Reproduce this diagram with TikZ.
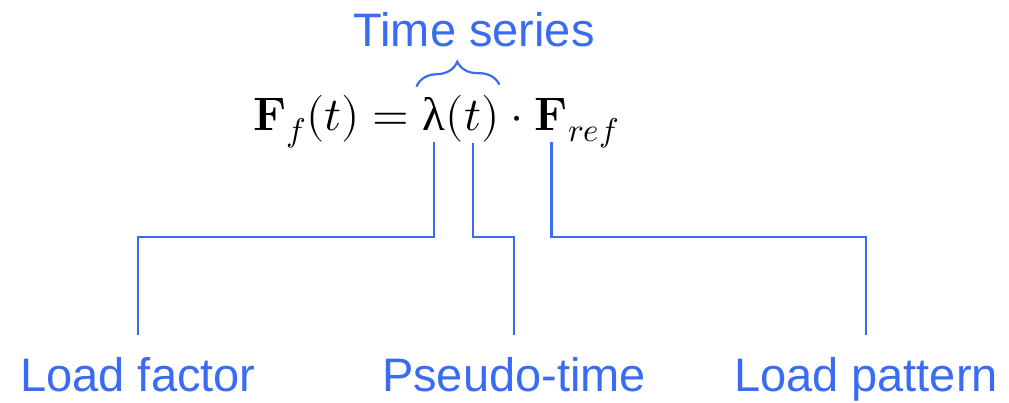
\documentclass[tikz,border=0pt]{standalone}
\usepackage{amsmath}
\usepackage{unicode-math}
\setmathfont{Latin Modern Math}
\setsansfont{Liberation Sans}
\newfontfamily\lamfont{Liberation Serif}
\usetikzlibrary{positioning,decorations.pathreplacing,calc}
\definecolor{leadblue}{HTML}{3A6BF5}

\begin{document}
\begin{tikzpicture}[
  x=1pt, y=-1pt,
  eq/.style={inner sep=0pt, anchor=base west, font=\fontsize{47}{54}\selectfont},
  tag/.style={inner sep=0pt, anchor=base, text=leadblue,
              font=\sffamily\fontsize{47}{54}\selectfont},
  lead/.style={draw=leadblue, line width=2.2pt},
  curly/.style={lead, line width=2.2pt, decorate, decoration={brace, amplitude=24pt}},
]
\useasboundingbox (0,0) rectangle (1009,402);

% ---- the equation, set piece by piece so the leads can hang from it ----
\node[eq] (lhs) at (253,130)      {$\mathbf{F}_f(t) ={}$};
\node[eq] (lam) at (lhs.base east) {\lamfont λ};
\node[eq] (lp)  at (lam.base east) {$($};
\node[eq] (tv)  at (lp.base east)  {$t$};
\node[eq] (rp)  at (tv.base east)  {$)$};
\node[eq] (dt)  at (rp.base east)  {${}\cdot{}$};
\node[eq] (fb)  at (dt.base east)  {$\mathbf{F}$};
\node[eq] (fs)  at (fb.base east)  {${}_{ref}$};

% ---- labels ----
\node[tag] (tser) at (474,46)  {Time series};
\node[tag] (lfac) at (138,391) {Load factor};
\node[tag] (lpse) at (514,391) {Pseudo-time};
\node[tag] (lpat) at (866,391) {Load pattern};

% ---- brace over the time series ----
\draw[curly] ([xshift=-6pt,yshift=10pt]lam.north west) -- ([xshift=-1pt,yshift=10pt]rp.north east);

% ---- leads down to the labels ----
\coordinate (knee) at (0,237);
\draw[lead] ([yshift=-12pt]lam.south) -- (lam.south |- knee) -| ([yshift=22pt]lfac.north);
\draw[lead] ([yshift=-12pt]tv.south)  -- (tv.south |- knee)  -| ([yshift=22pt]lpse.north);
\draw[lead] ([yshift=-12pt]fb.south)  -- (fb.south |- knee)  -| ([yshift=22pt]lpat.north);
\end{tikzpicture}
\end{document}
